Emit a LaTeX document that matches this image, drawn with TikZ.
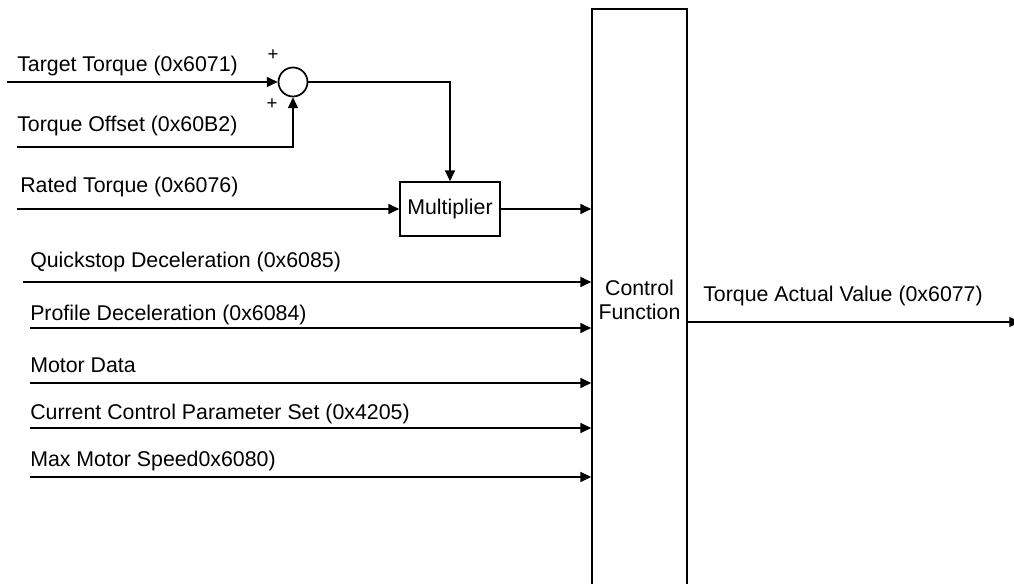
\documentclass[tikz,border=0pt]{standalone}
\usepackage{fontspec}
\setmainfont{Liberation Sans}
\usepackage{tikz}
\usetikzlibrary{arrows.meta, positioning, calc}

\begin{document}
\begin{tikzpicture}[
    x=0.75pt, y=-0.75pt,
    block/.style={draw, line width=1.3pt, rectangle, inner sep=0pt, align=center, font=\fontsize{16}{18}\selectfont},
    sumjunc/.style={draw, line width=1.3pt, circle, inner sep=0pt, minimum size=21.75pt},
    sig/.style={anchor=base west, inner sep=0pt, font=\fontsize{16}{18}\selectfont},
    sgn/.style={inner sep=0pt, font=\fontsize{14}{14}\selectfont},
    arrow/.style={line width=0.95pt, -{Triangle[length=8pt, width=7.5pt]}}
]
\useasboundingbox (0,0) rectangle (1014,584);

% Blocks
\node[block, minimum width=71.25pt, minimum height=436.5pt] (ctrl) at (639.5,300) {Control\\Function};
\node[block, minimum width=75pt, minimum height=40.5pt] (mult) at (450,209) {Multiplier};
\node[sumjunc] (sum) at (293,82) {};
\node[sgn] (plusa) at (273,55) {+};
\node[sgn] (plusb) at (272,104) {+};

% Input start points
\coordinate (ttin) at (7,82);
\coordinate (toin) at (17,147);
\coordinate (rtin) at (17,209);
\coordinate (qsin) at (23,282);
\coordinate (pdin) at (30,328);
\coordinate (mdin) at (30,383);
\coordinate (ccin) at (30,428);
\coordinate (msin) at (30,477);
\coordinate (outend) at (1020,322);

% Signal labels
\node[sig] (ttlbl) at (17,72) {Target Torque (0x6071)};
\node[sig] (tolbl) at (17,132) {Torque Offset (0x60B2)};
\node[sig] (rtlbl) at (20,193) {Rated Torque (0x6076)};
\node[sig] (qslbl) at (30,268) {Quickstop Deceleration (0x6085)};
\node[sig] (pdlbl) at (30,321) {Profile Deceleration (0x6084)};
\node[sig] (mdlbl) at (30,373) {Motor Data};
\node[sig] (cclbl) at (30,420) {Current Control Parameter Set (0x4205)};
\node[sig] (mslbl) at (30,467) {Max Motor Speed0x6080)};
\node[sig] (tavlbl) at (703,302) {Torque Actual Value (0x6077)};

% Connections
\draw[arrow] (ttin) -- (sum.west);
\draw[arrow] (toin) -| (sum.south);
\draw[arrow] (sum.east) -| (mult.north);
\draw[arrow] (rtin) -- (mult.west);
\draw[arrow] (mult.east) -- (mult.east -| ctrl.west);
\draw[arrow] (qsin) -- (qsin -| ctrl.west);
\draw[arrow] (pdin) -- (pdin -| ctrl.west);
\draw[arrow] (mdin) -- (mdin -| ctrl.west);
\draw[arrow] (ccin) -- (ccin -| ctrl.west);
\draw[arrow] (msin) -- (msin -| ctrl.west);
\draw[arrow] (ctrl.east |- outend) -- (outend);

\end{tikzpicture}
\end{document}
